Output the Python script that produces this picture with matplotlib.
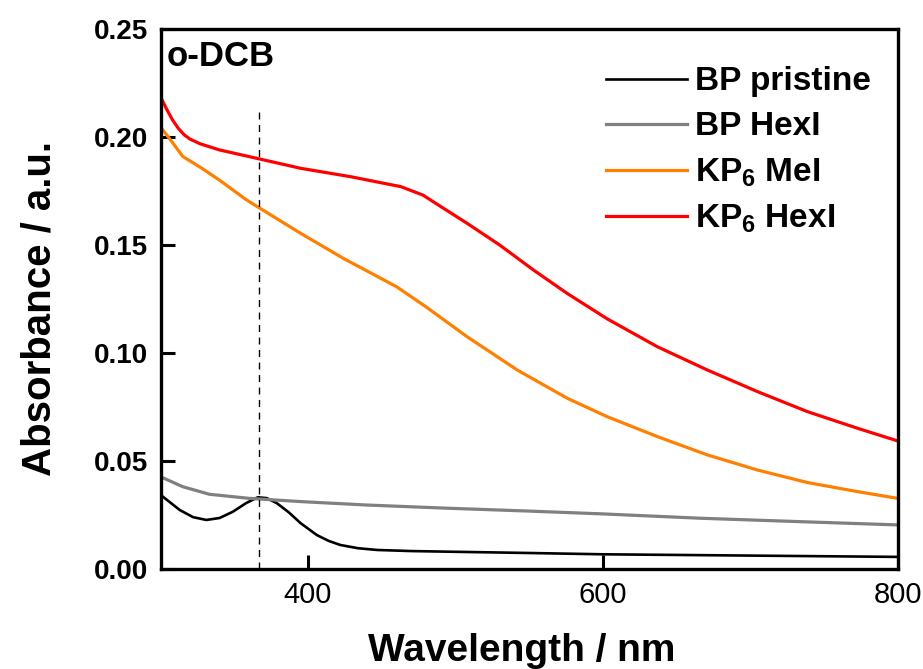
#!/usr/bin/env python3
"""UV-vis absorbance spectra of BP / KP6 dispersions in o-DCB."""

import matplotlib

matplotlib.use("Agg")
import matplotlib.pyplot as plt

plt.rcParams["font.family"] = ["Liberation Sans", "DejaVu Sans"]
plt.rcParams["mathtext.fontset"] = "custom"
plt.rcParams["mathtext.bf"] = "Liberation Sans:bold"
plt.rcParams["mathtext.rm"] = "Liberation Sans:bold"
plt.rcParams["mathtext.default"] = "bf"

# wavelength grids (nm) and absorbance
wl_bp = [300, 313, 322, 331, 340, 349, 358, 366, 372, 379, 387, 395, 406, 414, 422,
         434, 447, 470, 496, 550, 600, 700, 800]
abs_bp_pristine = [0.0343, 0.0273, 0.0240, 0.0227, 0.0236, 0.0265, 0.0305, 0.0332, 0.0328,
                   0.0304, 0.0262, 0.0212, 0.0157, 0.0130, 0.0111, 0.0096, 0.0088, 0.0083,
                   0.0080, 0.0074, 0.0068, 0.0062, 0.0056]

wl_hex = [300, 315, 333, 360, 395, 440, 496, 550, 600, 666, 730, 800]
abs_bp_hexi = [0.0427, 0.0381, 0.0346, 0.0327, 0.0312, 0.0296, 0.0281, 0.0268, 0.0255,
               0.0235, 0.0220, 0.0204]

wl_kp = [300, 304, 308, 312, 316, 320, 327, 340, 366, 395, 429, 463, 478, 485, 508, 530,
         553, 576, 603, 637, 671, 705, 739, 773, 800]
abs_kp6_hexi = [0.2185, 0.2130, 0.2080, 0.2040, 0.2010, 0.1990, 0.1968, 0.1940, 0.1900,
                0.1855, 0.1816, 0.1770, 0.1731, 0.1700, 0.1600, 0.1500, 0.1384, 0.1275,
                0.1158, 0.1029, 0.0921, 0.0821, 0.0728, 0.0651, 0.0593]

wl_me = [300, 308, 315, 328, 340, 358, 366, 395, 424, 460, 480, 508, 542, 576, 603,
         637, 671, 705, 739, 773, 800]
abs_kp6_mei = [0.2046, 0.1975, 0.1910, 0.1855, 0.1800, 0.1710, 0.1676, 0.1554, 0.1438,
               0.1307, 0.1214, 0.1075, 0.0921, 0.0790, 0.0705, 0.0613, 0.0528, 0.0458,
               0.0400, 0.0358, 0.0327]

peak_wl = 366.5
peak_top = 0.214


def main() -> None:
    fig = plt.figure(figsize=(9.23, 6.69), dpi=100)
    ax = fig.add_axes([0.174, 0.1495, 0.7985, 0.8072])

    ax.plot(wl_bp, abs_bp_pristine, color="black", lw=1.9, label="BP pristine")
    ax.plot(wl_hex, abs_bp_hexi, color="#808080", lw=2.3, label="BP HexI")
    ax.plot(wl_me, abs_kp6_mei, color="#ff8000", lw=2.3, label="KP$_6$ MeI")
    ax.plot(wl_kp, abs_kp6_hexi, color="#ff0000", lw=2.3, label="KP$_6$ HexI")
    ax.plot([peak_wl, peak_wl], [0, peak_top], color="black", lw=1.0, ls=(0, (5, 4)))

    ax.set_xlim(300, 800)
    ax.set_ylim(0, 0.25)
    ax.set_xticks([400, 600, 800])
    ax.set_yticks([0.00, 0.05, 0.10, 0.15, 0.20, 0.25])
    ax.set_yticklabels([f"{v:.2f}" for v in ax.get_yticks()], fontweight="bold")
    ax.tick_params(direction="in", length=10, width=2.2, top=False, right=False)
    ax.tick_params(axis="x", labelsize=21, pad=9)
    ax.tick_params(axis="y", labelsize=20, pad=9)
    for spine in ax.spines.values():
        spine.set_linewidth(2.4)

    ax.set_xlabel("Wavelength / nm", fontsize=28, fontweight="bold")
    ax.xaxis.set_label_coords(0.49, -0.118)
    ax.set_ylabel("Absorbance / a.u.", fontsize=29, fontweight="bold")
    ax.yaxis.set_label_coords(-0.139, 0.483)
    ax.text(0.008, 0.979, "o-DCB", transform=ax.transAxes, fontsize=25,
            fontweight="bold", va="top", ha="left")

    leg = ax.legend(loc="upper right", bbox_to_anchor=(1.0, 0.98), frameon=False,
                    fontsize=24, handlelength=2.43, handletextpad=0.25,
                    labelspacing=0.42, borderaxespad=0.45, borderpad=0.35)
    for t in leg.get_texts():
        t.set_fontweight("bold")

    fig.savefig("out.png", dpi=100)
    plt.close(fig)


if __name__ == "__main__":
    main()
